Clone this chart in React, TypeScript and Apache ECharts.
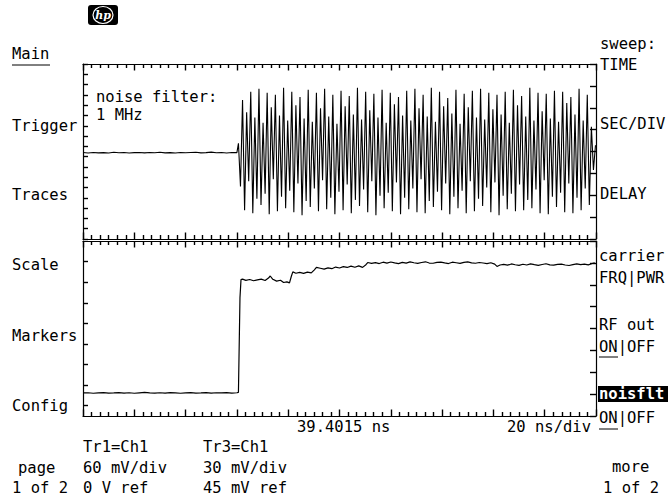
import React, { useEffect, useRef } from "react";
import * as echarts from "echarts";

// ---- data (time in ns from left edge, 20 ns/div; values in screen units, 0 = graticule centre) ----
const timeMin = 0;
const timeMax = 200;
const timeDiv = 20;

// Tr1 (top): flat part sampled every 2 ns from 0 to 60 ns
const topFlatStep = 2;
const topFlat = [
  -1.0, -1.4, -0.9, -1.3, -1.1, -1.5, -0.8, -1.2, -1.0, -1.4, -1.1, -0.9, -1.3, -1.0, -1.2, -0.7,
  -1.3, -1.1, -1.4, -0.9, -1.2, -1.0, -0.8, -1.3, -1.1, -0.6, -1.2, -1.0, -1.4, -0.9, -1.1,
];
// Tr1 (top): oscillation after the trigger point, one sample every 0.8 ns from 60.6 ns
const topOscStart = 60.6;
const topOscStep = 0.8;
const topOsc = [
  8, -34, 50, -57, 38, -29, 58, -60, 33, -46, 61, -52, 28, -41,
  57, -61, 43, -27, 55, -58, 35, -44, 62, -55, 30, -38, 58, -59,
  45, -31, 53, -62, 32, -48, 60, -54, 29, -36, 57, -58, 42, -28,
  61, -56, 34, -45, 55, -61, 27, -39, 59, -57, 44, -32, 54, -60,
  36, -47, 62, -53, 31, -37, 58, -59, 40, -29, 56, -62, 33, -43,
  60, -55, 28, -40, 57, -58, 46, -30, 53, -61, 35, -45, 59, -56,
  30, -36, 61, -59, 42, -27, 55, -60, 34, -48, 62, -54, 29, -39,
  58, -57, 44, -31, 52, -61, 37, -44, 60, -55, 27, -38, 56, -60,
  43, -29, 59, -58, 33, -46, 61, -53, 31, -35, 57, -59, 41, -30,
  55, -62, 36, -43, 58, -56, 28, -41, 60, -58, 45, -32, 54, -57,
  34, -47, 62, -55, 30, -37, 57, -60, 39, -28, 56, -61, 32, -44,
  59, -54, 29, -40, 58, -59, 47, -31, 53, -60, 36, -45, 61, -57,
  30, -36, 55, -52, 24, -18, 6,
];

// Tr3 (bottom): flat part sampled every 2 ns from 0 to 60 ns
const bottomFlatStep = 2;
const bottomFlat = [
  -62.6, -62.4, -62.9, -62.5, -62.2, -62.8, -62.6, -62.3, -62.7, -62.4, -62.9, -62.5, -62.1, -62.6,
  -62.8, -62.4, -62.7, -62.2, -62.5, -62.9, -62.6, -62.3, -62.7, -62.5, -62.2, -62.8, -62.4, -62.6,
  -62.3, -62.7, -62.4,
];
// Tr3 (bottom): step and plateau, [time ns, value]
const bottomRise: [number, number][] = [
  [60.6, -62.0], [61.2, 30], [61.6, 47.5], [62.2, 48.0], [63.5, 46.8], [65, 47.6], [66.5, 46.4],
  [68, 47.2], [69.5, 47.9], [71, 46.6], [72.3, 49.0], [73, 51.0], [74, 47.8], [75.5, 46.0],
  [77, 46.9], [78.2, 44.7], [79.5, 45.3], [80.5, 44.3], [81.2, 50.5], [81.8, 55.0], [83, 53.7],
  [84.5, 54.5], [86, 53.5], [87.5, 54.8], [89, 54.0], [90.2, 57.0], [91, 59.3], [92.5, 58.5],
  [94, 57.7], [95.5, 58.9], [97, 58.1], [98.5, 59.7], [100, 58.8], [101.5, 60.1], [103, 59.3],
  [104.5, 60.6], [106, 59.5], [107.5, 60.8], [109, 59.4], [110.3, 62.0], [111, 64.1], [112.5, 63.3],
  [114, 64.0], [115.5, 63.1], [117, 64.4], [118.5, 63.5], [120, 64.6], [121.5, 63.7], [123, 63.0],
  [124.5, 64.3], [126, 63.5], [127.5, 64.7], [129, 63.9], [130.5, 63.2], [132, 64.1], [133.5, 64.8],
  [135, 63.6], [136.5, 63.4], [138, 64.3], [139.5, 64.5], [141, 63.7], [142.5, 63.1], [144, 64.4],
  [145.5, 63.9], [147, 63.3], [148.5, 64.2], [150, 64.7], [151.5, 63.8], [153, 63.4], [154.5, 64.1],
  [156, 63.6], [157.5, 63.0], [159, 63.9], [160.5, 62.5], [161.4, 60.3], [162.6, 61.7], [164, 62.3],
  [165.5, 61.5], [167, 62.7], [168.5, 61.9], [170, 61.3], [171.5, 62.4], [173, 61.7], [174.5, 62.8],
  [176, 62.0], [177.5, 61.4], [179, 62.2], [180.5, 62.9], [182, 61.8], [183.5, 61.5], [185, 62.3],
  [186.5, 62.6], [188, 61.7], [189.5, 61.2], [191, 62.1], [192.5, 62.8], [194, 62.0], [195.5, 62.5],
  [197, 61.8], [198.5, 63.1], [199.5, 63.9],
];

// vertical scale (screen units), tick positions
const yMin = -85;
const yMax = 85;
const leftTickStepTop = 10;
const leftTicksBottom = [-75, -55, -35, -15, 5, 25, 45, 65];
const rightTickStep = 21.25;

// texts
const leftMenu = ["Trigger", "Traces", "Scale", "Markers", "Config"];
const centerTime = "39.4015 ns";
const timePerDiv = "20 ns/div";
const tr1Info = ["Tr1=Ch1", "60 mV/div", "0 V ref"];
const tr3Info = ["Tr3=Ch1", "30 mV/div", "45 mV ref"];
const noteLines = ["noise filter:", "1 MHz"];

const FONT = "'DejaVu Sans Mono', 'Liberation Mono', monospace";
const FS = 15.5;
const INK = "#000";
const TICK_W = 1.4;

function txt(x: number, y: number, s: string, extra: any = {}) {
  return {
    type: "text",
    x,
    y,
    silent: true,
    z: extra.z || 100,
    style: {
      text: s,
      fill: extra.fill || INK,
      font: `${extra.fontStyle || "normal"} ${extra.fontWeight || "normal"} ${extra.fontSize || FS}px ${extra.fontFamily || FONT}`,
      verticalAlign: "middle",
      align: extra.align || "left",
    },
  };
}

function uline(x1: number, x2: number, y: number) {
  return {
    type: "line",
    silent: true,
    shape: { x1, y1: y, x2, y2: y },
    style: { stroke: INK, lineWidth: 1 },
    z: 100,
  };
}

function makeX(gridIndex: number, position: string) {
  return {
    type: "value",
    gridIndex,
    position,
    min: timeMin,
    max: timeMax,
    interval: timeDiv,
    axisLine: { show: true, onZero: false, lineStyle: { color: INK, width: 1.2 } },
    axisTick: { show: true, inside: true, length: 6.5, lineStyle: { color: INK, width: TICK_W } },
    minorTick: { show: true, splitNumber: 6, length: 4, lineStyle: { color: INK, width: TICK_W } },
    axisLabel: { show: false },
    splitLine: { show: false },
    minorSplitLine: { show: false },
  };
}

function makeY(gridIndex: number, position: string, tick: any) {
  return {
    type: "value",
    gridIndex,
    position,
    min: yMin,
    max: yMax,
    ...(tick.interval ? { interval: tick.interval } : {}),
    axisLine: { show: true, onZero: false, lineStyle: { color: INK, width: 1.2 } },
    axisTick: {
      show: true,
      inside: true,
      length: tick.length,
      lineStyle: { color: INK, width: TICK_W },
      ...(tick.customValues ? { customValues: tick.customValues } : {}),
    },
    axisLabel: { show: false },
    splitLine: { show: false },
  };
}

export default function App() {
  const ref = useRef<HTMLDivElement>(null);

  useEffect(() => {
    if (!ref.current) return;
    const chart = echarts.init(ref.current, undefined, { renderer: "svg" });

    const topData = topFlat
      .map((v, i) => [i * topFlatStep, v])
      .concat(topOsc.map((v, i) => [topOscStart + i * topOscStep, v]));
    const bottomData = bottomFlat
      .map((v, i) => [i * bottomFlatStep, v] as [number, number])
      .concat(bottomRise);

    const menuY = [126, 195, 265, 336, 406];

    const graphic: any[] = [
      // hp logo
      { type: "rect", shape: { x: 88, y: 5, width: 30, height: 20, r: 3 }, style: { fill: INK }, z: 100 },
      { type: "ellipse", shape: { cx: 103, cy: 15, rx: 10, ry: 8.5 }, style: { fill: INK, stroke: "#fff", lineWidth: 1.2 }, z: 101 },
      txt(103, 15.5, "hp", { fill: "#fff", fontSize: 11, fontStyle: "italic", fontWeight: "bold", fontFamily: "'DejaVu Serif', serif", align: "center", z: 102 }),
      // left menu
      txt(12, 54, "Main"),
      uline(12, 50, 65),
      ...leftMenu.map((s, i) => txt(12, menuY[i], s)),
      // note inside top graticule
      txt(96, 97, noteLines[0]),
      txt(96, 115, noteLines[1]),
      // right softkeys
      txt(600, 44, "sweep:"),
      txt(600, 65, "TIME"),
      txt(600, 124, "SEC/DIV"),
      txt(600, 194, "DELAY"),
      txt(599, 256, "carrier"),
      txt(599, 278, "FRQ|PWR"),
      txt(599, 325, "RF out"),
      txt(599, 347, "ON|OFF"),
      uline(599, 618, 357),
      { type: "rect", shape: { x: 598, y: 386, width: 70, height: 16 }, style: { fill: INK }, z: 99 },
      txt(599, 394, "noisflt", { fill: "#fff", fontWeight: "bold" }),
      txt(599, 418, "ON|OFF"),
      uline(599, 618, 429),
      txt(612, 467, "more"),
      txt(603, 488, "1 of 2"),
      // time annotation
      txt(297, 427, centerTime),
      txt(507, 427, timePerDiv),
      // trace info
      ...tr1Info.map((s, i) => txt(83, 447 + i * 20.5, s)),
      ...tr3Info.map((s, i) => txt(203, 447 + i * 20.5, s)),
      txt(18, 467.5, "page"),
      txt(12, 488, "1 of 2"),
    ];

    chart.setOption({
      animation: false,
      backgroundColor: "#fff",
      grid: [
        { left: 83, top: 64, width: 513, height: 175 },
        { left: 83, top: 241, width: 513, height: 175 },
      ],
      xAxis: [makeX(0, "bottom"), makeX(0, "top"), makeX(1, "bottom"), makeX(1, "top")],
      yAxis: [
        makeY(0, "left", { interval: leftTickStepTop, length: 5 }),
        makeY(0, "right", { interval: rightTickStep, length: 6 }),
        makeY(1, "left", { customValues: leftTicksBottom, length: 5 }),
        makeY(1, "right", { interval: rightTickStep, length: 6 }),
      ],
      series: [
        {
          type: "line",
          xAxisIndex: 0,
          yAxisIndex: 0,
          data: topData,
          symbol: "none",
          lineStyle: { color: INK, width: 1.1 },
        },
        {
          type: "line",
          xAxisIndex: 2,
          yAxisIndex: 2,
          data: bottomData,
          symbol: "none",
          lineStyle: { color: INK, width: 1.2 },
        },
      ],
      graphic,
    });

    return () => chart.dispose();
  }, []);

  return (
    <div
      ref={ref}
      style={{ position: "fixed", left: 0, top: 0, width: 668, height: 501, background: "#fff" }}
    />
  );
}
